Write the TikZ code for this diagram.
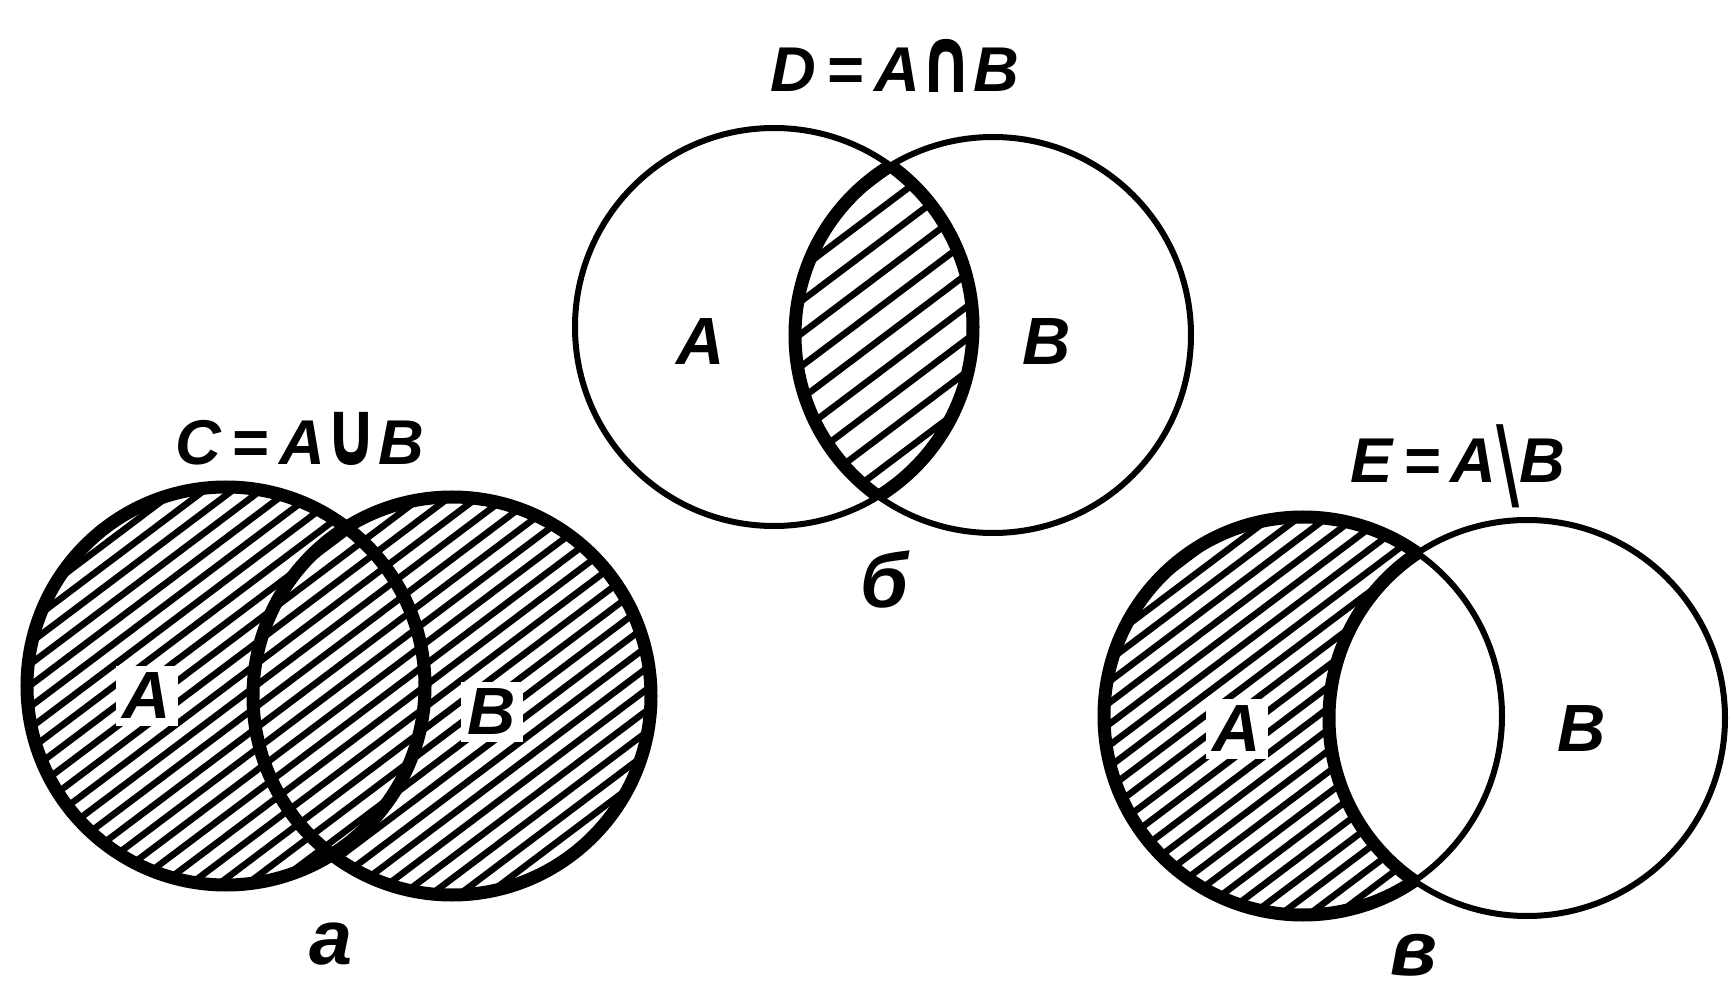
\documentclass[tikz,border=0pt]{standalone}
\usepackage{graphicx}
\usepackage{fontspec}
\setmainfont{Liberation Sans}
\newfontfamily\symf{DejaVu Sans}
\begin{document}
\tikzset{
  thickline/.style={line width=0.13cm},
  thinline/.style={line width=0.06cm},
  hatchline/.style={line width=0.065cm},
  title/.style={font=\fontsize{18}{20}\selectfont\bfseries\itshape, inner sep=0pt},
  letter/.style={font=\fontsize{19}{22}\selectfont\bfseries\itshape, inner sep=2pt},
  sublabel/.style={font=\fontsize{22}{24}\selectfont\bfseries\itshape, inner sep=0pt},
}
\newcommand\myhatch[2]{\foreach \c in {#1,#2,...,800}{\draw[hatchline] ({-0.602*\c-0.799*2200},{0.799*\c-0.602*2200}) -- ({-0.602*\c+0.799*2200},{0.799*\c+0.602*2200});}}
\newcommand\bigsym[1]{\raisebox{-0.02em}{\scalebox{1.05}[1.45]{\symf #1}}}
\begin{tikzpicture}[x=0.01cm,y=0.01cm]
\useasboundingbox (0,0) rectangle (1732,990);
\fill[white] (0,0) rectangle (1732,990);
% ---------- diagram a : union ----------
\coordinate (aA) at (226,304);
\coordinate (aB) at (452,294);
\begin{scope}
  \clip (aA) circle[radius=199] (aB) circle[radius=199];
  \myhatch{-1050}{-1033}
\end{scope}
\draw[thickline] (aA) circle[radius=199];
\draw[thickline] (aB) circle[radius=199];
\node[letter, fill=white] (aLA) at (147,294) {A};
\node[letter, fill=white] (aLB) at (492,278) {B};
\node[title] (aT) at (300,551) {C\,=\,A\bigsym{∪}B};
\node[sublabel] (aS) at (331,46) {а};
% ---------- diagram b : intersection ----------
\coordinate (bA) at (774,663);
\coordinate (bB) at (993,655);
\draw[thinline] (bA) circle[radius=199];
\draw[thinline] (bB) circle[radius=198];
\begin{scope}
  \clip (bA) circle[radius=199];
  \clip (bB) circle[radius=198];
  \myhatch{-1050}{-1024}
\end{scope}
\begin{scope}
  \clip (bA) circle[radius=199];
  \draw[thickline] (bB) circle[radius=198];
\end{scope}
\begin{scope}
  \clip (bB) circle[radius=198];
  \draw[thickline] (bA) circle[radius=199];
\end{scope}
\node[letter] (bLA) at (701,648) {A};
\node[letter] (bLB) at (1047,648) {B};
\node[title] (bT) at (895,924) {D\,=\,A\bigsym{∩}B};
\node[sublabel] (bS) at (884,410) {б};
% ---------- diagram c : difference ----------
\coordinate (cA) at (1303,274);
\coordinate (cB) at (1527,272);
\draw[thinline] (cA) circle[radius=199];
\draw[thinline] (cB) circle[radius=198];
\begin{scope}[even odd rule]
  \clip (cA) circle[radius=199];
  \clip (0,0) -- (0,990) -- (1732,990) -- (1732,0) -- cycle (cB) circle[radius=198];
  \myhatch{-1050}{-1033}
\end{scope}
\begin{scope}[even odd rule]
  \clip (0,0) -- (0,990) -- (1732,990) -- (1732,0) -- cycle (cB) circle[radius=198];
  \draw[thickline] (cA) circle[radius=199];
\end{scope}
\begin{scope}
  \clip (cA) circle[radius=199];
  \draw[thickline] (cB) circle[radius=198];
\end{scope}
\node[letter, fill=white] (cLA) at (1237,261) {A};
\node[letter] (cLB) at (1582,261) {B};
\node[title] (cT) at (1458,524) {E\,=\,A\raisebox{-0.25em}{\scalebox{1}[1.6]{\symf\bfseries\upshape\textbackslash}}B};
\node[sublabel] (cS) at (1414,35) {в};
\end{tikzpicture}
\end{document}
